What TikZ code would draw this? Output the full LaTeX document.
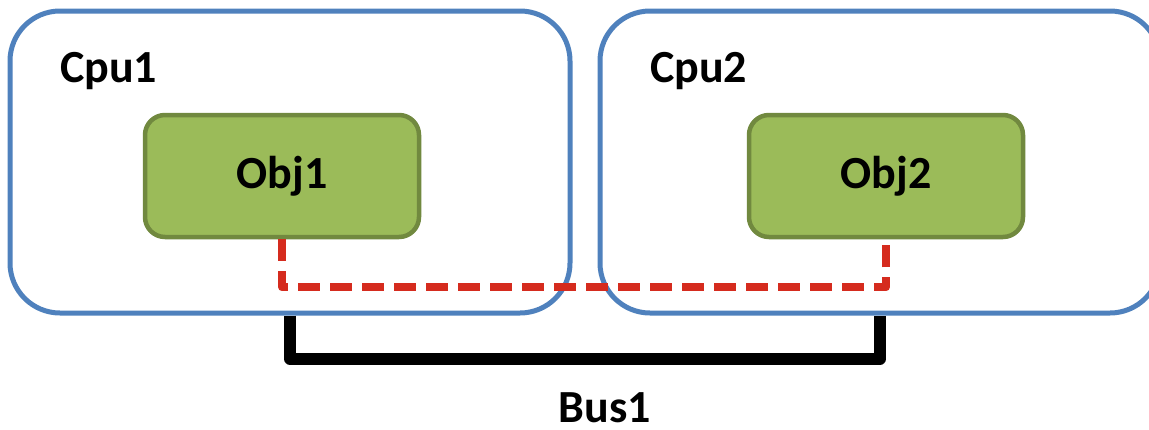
\documentclass[tikz,border=0pt]{standalone}
\usepackage{fontspec}
\setmainfont{Carlito}
\definecolor{cpublue}{RGB}{79,129,189}
\definecolor{objfill}{RGB}{155,187,89}
\definecolor{objdraw}{RGB}{113,137,63}
\definecolor{linkred}{RGB}{213,43,30}
\tikzset{
  cpubox/.style={draw=cpublue, line width=5pt, rounded corners=50pt, fill=white},
  objbox/.style={draw=objdraw, fill=objfill, line width=4.5pt, rounded corners=20pt,
    minimum width=274pt, minimum height=122pt, inner sep=0pt,
    font=\fontsize{46}{50}\selectfont\bfseries},
  lbl/.style={inner sep=0pt, anchor=base west, font=\fontsize{46}{50}\selectfont\bfseries},
  linkline/.style={draw=linkred, line width=8pt, dash pattern=on 22pt off 10pt, line join=round},
  busline/.style={draw=black, line width=11.5pt, line join=round}
}
\begin{document}
\begin{tikzpicture}[x=1pt,y=-1pt]
\useasboundingbox (0,0) rectangle (1149,429);
\node[cpubox, minimum width=560pt, minimum height=302pt, inner sep=0pt] (cpu1) at (290,162) {};
\node[cpubox, minimum width=560pt, minimum height=302pt, inner sep=0pt] (cpu2) at (880,162) {};
\node[lbl] (cpu1l) at (60,82) {Cpu1};
\node[lbl] (cpu2l) at (650,82) {Cpu2};
\node[objbox] (obj1) at (282,176) {Obj1};
\node[objbox] (obj2) at (886,176) {Obj2};
\draw[linkline] (obj1.south) -- ++(0,48) -| (obj2.south);
\coordinate (b1) at (290,315.5);
\coordinate (b2) at (880,315.5);
\draw[busline] (b1) -- ++(0,43.5) -| (b2);
\node[lbl, anchor=base] (bus1) at (605,422) {Bus1};
\end{tikzpicture}
\end{document}
